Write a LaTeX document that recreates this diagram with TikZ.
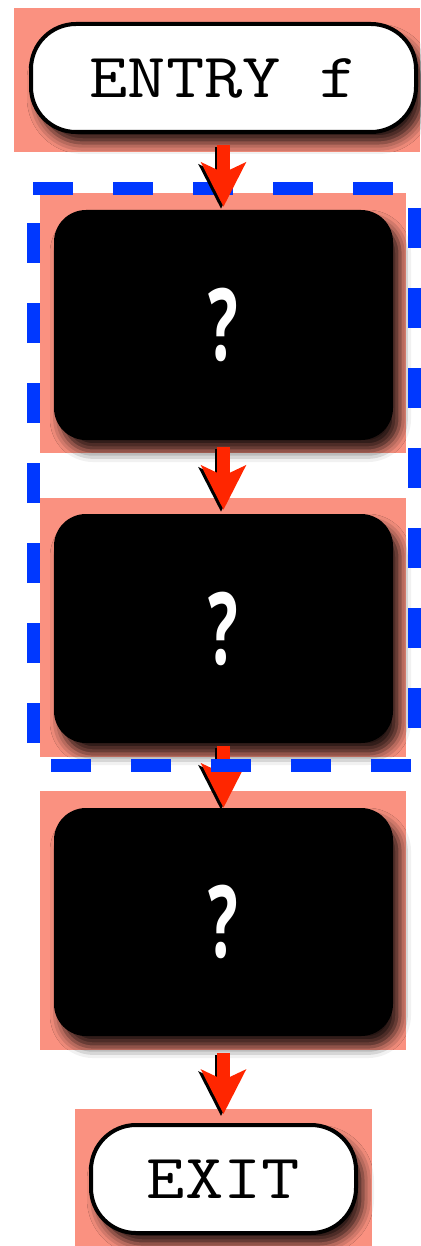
\documentclass[tikz,border=0pt]{standalone}
\usepackage{fontspec}
\usepackage{graphicx}
\newfontfamily\qf{Open Sans}
\usetikzlibrary{shadows.blur,arrows.meta}
\definecolor{salmonbg}{RGB}{250,145,128}
\definecolor{arrred}{RGB}{255,38,0}
\definecolor{dashblue}{RGB}{0,56,255}
\tikzset{
  bgrect/.style={fill=salmonbg},
  shad/.style={blur shadow={shadow xshift=7pt, shadow yshift=-11pt, shadow blur radius=11pt, shadow opacity=85}},
  term/.style={shad, draw=black, line width=4pt, fill=white, rounded corners=45pt, inner sep=0pt,
    font=\ttfamily\fontsize{63}{63}\selectfont},
  blk/.style={shad, fill=black, rounded corners=32pt, minimum width=339pt, inner sep=0pt, text=white,
    font=\qf\bfseries\fontsize{100}{100}\selectfont},
  arr/.style={draw=arrred, line width=13pt, -{Stealth[length=44pt,width=44pt,inset=10pt]}},
  arrsh/.style={draw=black, line width=13pt, -{Stealth[length=44pt,width=44pt,inset=10pt]},
    transform canvas={xshift=-2.5pt,yshift=-2pt}},
  grp/.style={draw=dashblue, line width=13pt, dash pattern=on 40pt off 40pt}
}
\newcommand{\qm}{\scalebox{0.62}[1]{?}}
\newcommand{\wide}[1]{\scalebox{1.18}[1]{#1}}
\begin{document}
\begin{tikzpicture}[x=1pt,y=-1pt]
\useasboundingbox (0,0) rectangle (420,1246);
% salmon backgrounds
\fill[bgrect] (14,8) rectangle (420,152);
\fill[bgrect] (40,193) rectangle (406,453);
\fill[bgrect] (40,498) rectangle (406,757);
\fill[bgrect] (40,791) rectangle (406,1050);
\fill[bgrect] (75,1109) rectangle (372,1246);
% nodes
\node[term, minimum width=385pt, minimum height=108pt] (entry) at (223.5,78) {\wide{ENTRY f}};
\node[blk, minimum height=230pt] (b1) at (223.5,325) {\qm};
\node[blk, minimum height=229pt] (b2) at (223.5,628.5) {\qm};
\node[blk, minimum height=228pt] (b3) at (223.5,922) {\qm};
\node[term, minimum width=265pt, minimum height=108pt] (exit) at (223.5,1179) {\wide{EXIT}};
% arrow 3 lies under the dashed group
\draw[arrsh] ([yshift=-3pt]b2.south) -- (b3.north);
\draw[arr] ([yshift=-3pt]b2.south) -- (b3.north);
% dashed group
\coordinate (g1) at (33,189);
\coordinate (g2) at (414,189);
\coordinate (g3) at (414,765);
\coordinate (g4) at (33,765);
\draw[grp] (g1) -- (g2) -- (g3) -- (g4) -- cycle;
% other arrows
\draw[arrsh] ([yshift=-11pt]entry.south) -- ([yshift=3pt]b1.north);
\draw[arr] ([yshift=-11pt]entry.south) -- ([yshift=3pt]b1.north);
\draw[arrsh] ([yshift=-7pt]b1.south) -- ([yshift=4pt]b2.north);
\draw[arr] ([yshift=-7pt]b1.south) -- ([yshift=4pt]b2.north);
\draw[arrsh] ([yshift=-17pt]b3.south) -- ([yshift=9pt]exit.north);
\draw[arr] ([yshift=-17pt]b3.south) -- ([yshift=9pt]exit.north);
\end{tikzpicture}
\end{document}
